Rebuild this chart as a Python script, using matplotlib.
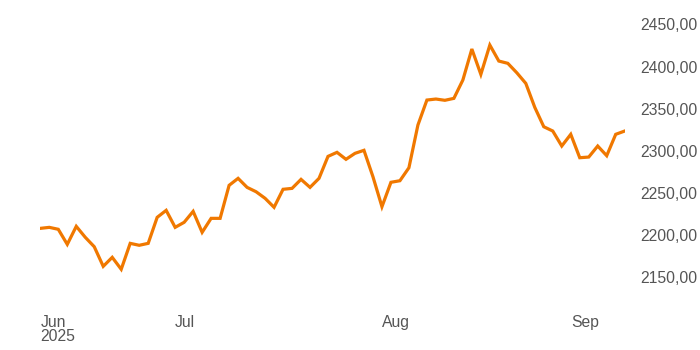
import matplotlib.pyplot as plt
from matplotlib.ticker import FuncFormatter

# daily closing values, one per trading day (Jun .. early Sep 2025)
values = [
    2207.8, 2209.0, 2206.7, 2188.8, 2210.2, 2197.2, 2186.0, 2162.7, 2173.4, 2159.2,
    2190.0, 2187.7, 2190.0, 2220.9, 2229.2, 2209.0, 2215.0, 2228.0, 2203.1, 2219.7,
    2219.7, 2258.9, 2267.2, 2256.5, 2251.3, 2243.5, 2232.8, 2254.2, 2255.3, 2266.0,
    2256.5, 2267.2, 2293.3, 2298.1, 2289.8, 2296.9, 2300.5, 2269.1, 2233.5, 2262.5,
    2264.4, 2279.8, 2330.5, 2360.2, 2361.4, 2359.9, 2362.2, 2384.0, 2420.8, 2390.7,
    2425.5, 2406.5, 2403.8, 2392.6, 2380.0, 2351.5, 2328.5, 2323.4, 2305.6, 2319.5,
    2291.7, 2292.5, 2305.6, 2294.1, 2319.5, 2323.4,
]
month_pos = [0, 15, 38, 59]
month_labels = ['Jun\n2025', 'Jul', 'Aug', 'Sep']
y_ticks = [2150, 2200, 2250, 2300, 2350, 2400, 2450]

plt.rcParams['font.family'] = ['Liberation Sans', 'DejaVu Sans']

fig = plt.figure(figsize=(7, 3.5), dpi=100)
ax = fig.add_axes([40.3 / 700, 0.1363, (624.7 - 40.3) / 700, 0.842])

ax.plot(range(len(values)), values, color='#f07800', lw=2.3, solid_joinstyle='miter')

ax.set_xlim(0, len(values) - 1)
ax.set_ylim(2120, 2470)

ax.yaxis.tick_right()
ax.set_yticks(y_ticks)
ax.yaxis.set_major_formatter(FuncFormatter(lambda v, p: f'{v:.2f}'.replace('.', ',')))
ax.set_xticks(month_pos)
ax.set_xticklabels(month_labels, ha='left', linespacing=0.95)

ax.tick_params(axis='y', length=0, pad=11.5, labelsize=11.3, labelcolor='#555555')
ax.tick_params(axis='x', length=0, pad=9, labelsize=11.3, labelcolor='#555555')

for s in ax.spines.values():
    s.set_visible(False)

fig.savefig('out.png', dpi=100)
